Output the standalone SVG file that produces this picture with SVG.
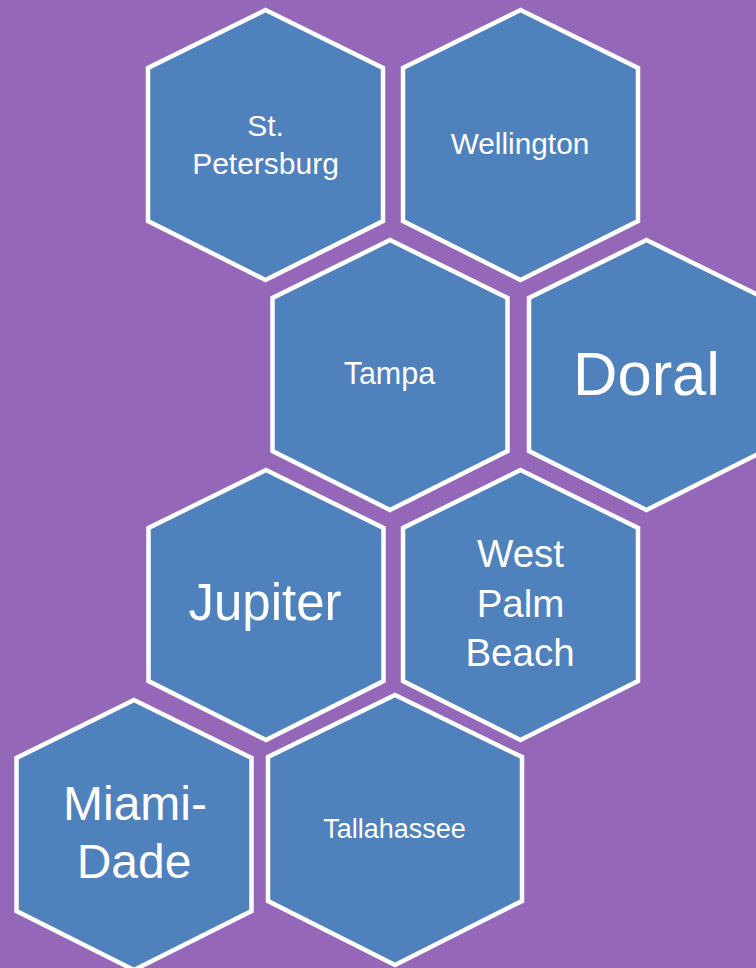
<svg xmlns="http://www.w3.org/2000/svg" width="756" height="968" viewBox="0 0 756 968">
  <style>
    .hex { fill: #4F81BD; stroke: #FFFFFF; stroke-width: 4.5; stroke-linejoin: miter; }
    .lbl { fill: #FFFFFF; font-family: "Liberation Sans", Arial, sans-serif; text-anchor: middle; }
  </style>
  <rect x="0" y="0" width="756" height="968" fill="#9467B8"/>
  <g id="st-petersburg">
    <polygon class="hex" points="265.5,10 383,68 383,221 265.5,280 148,221 148,68"/>
    <text class="lbl" x="265.5" y="135.7" font-size="30">St.</text>
    <text class="lbl" x="265.5" y="173.5" font-size="30">Petersburg</text>
  </g>
  <g id="wellington">
    <polygon class="hex" points="520.5,10 638,68 638,221 520.5,280 403,221 403,68"/>
    <text class="lbl" x="520" y="154" font-size="29.8">Wellington</text>
  </g>
  <g id="tampa">
    <polygon class="hex" points="390,240 507.5,298 507.5,451 390,510 272.5,451 272.5,298"/>
    <text class="lbl" x="389.4" y="384" font-size="30.5">Tampa</text>
  </g>
  <g id="doral">
    <polygon class="hex" points="646.5,240 764,298 764,451 646.5,510 529,451 529,298"/>
    <text class="lbl" x="646.5" y="395" font-size="61.5">Doral</text>
  </g>
  <g id="jupiter">
    <polygon class="hex" points="266,470 383.5,528 383.5,681 266,740 148.5,681 148.5,528"/>
    <text class="lbl" x="265" y="620" font-size="51">Jupiter</text>
  </g>
  <g id="west-palm-beach">
    <polygon class="hex" points="520.5,470 638,528 638,681 520.5,740 403,681 403,528"/>
    <text class="lbl" x="520.5" y="567.3" font-size="38.5">West</text>
    <text class="lbl" x="520.5" y="617" font-size="38.5">Palm</text>
    <text class="lbl" x="520" y="666" font-size="38.5">Beach</text>
  </g>
  <g id="miami-dade">
    <polygon class="hex" points="134,700 251.5,758 251.5,911 134,970 16.5,911 16.5,758"/>
    <text class="lbl" x="135" y="820" font-size="48">Miami-</text>
    <text class="lbl" x="134" y="877.7" font-size="48">Dade</text>
  </g>
  <g id="tallahassee">
    <polygon class="hex" points="395,695 522,757 522,901 395,965 268,901 268,757"/>
    <text class="lbl" x="394.5" y="838.3" font-size="27">Tallahassee</text>
  </g>
  <g id="connectors"/>
</svg>
